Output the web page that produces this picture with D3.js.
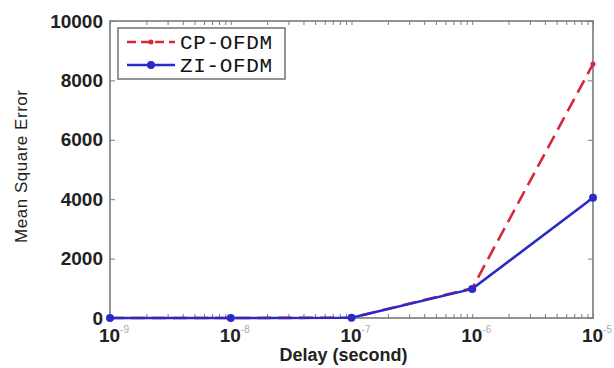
<!DOCTYPE html>
<html>
<head>
<meta charset="utf-8">
<script src="https://cdn.jsdelivr.net/npm/d3@7"></script>
<style>
  body { margin: 0; background: #fff; }
  svg { display: block; }
</style>
</head>
<body>
<svg id="chart"></svg>
<script>
// data
const delays = [1e-9, 1e-8, 1e-7, 1e-6, 1e-5];
const cpOfdm = [0, 0, 10, 1000, 8550];
const ziOfdm = [0, 0, 10, 980, 4050];
const yTicks = [0, 2000, 4000, 6000, 8000, 10000];
const seriesNames = ["CP-OFDM", "ZI-OFDM"];

const width = 614, height = 368;
const margin = {top: 21, right: 21, bottom: 50, left: 110};

const svg = d3.select("#chart")
  .attr("width", width)
  .attr("height", height)
  .attr("viewBox", [0, 0, width, height]);

const x = d3.scaleLog()
  .domain([1e-9, 1e-5])
  .range([margin.left, width - margin.right]);

const y = d3.scaleLinear()
  .domain([0, 10000])
  .range([height - margin.bottom, margin.top]);

const axisColor = "#7a7a7a";
const tickFont = "'Liberation Sans', Arial, sans-serif";

// minor log ticks, inward, top and bottom
const minor = [];
for (let e = -9; e < -5; e++) {
  for (let k = 1; k < 10; k++) minor.push(k * Math.pow(10, e));
}
minor.push(1e-5);

const bottomAxis = g => g
  .attr("transform", `translate(0,${y(0)})`)
  .call(d3.axisBottom(x).tickValues(minor).tickSize(-4).tickFormat(""))
  .call(g => g.select(".domain").remove())
  .call(g => g.selectAll(".tick line").attr("stroke", axisColor));

const topAxis = g => g
  .attr("transform", `translate(0,${y(10000)})`)
  .call(d3.axisTop(x).tickValues(minor).tickSize(-4).tickFormat(""))
  .call(g => g.select(".domain").remove())
  .call(g => g.selectAll(".tick line").attr("stroke", axisColor));

svg.append("g").call(bottomAxis);
svg.append("g").call(topAxis);

// y ticks inward, left and right
svg.append("g")
  .attr("transform", `translate(${x(1e-9)},0)`)
  .call(d3.axisLeft(y).tickValues(yTicks).tickSize(-5).tickFormat(d3.format("d")))
  .call(g => g.select(".domain").remove())
  .call(g => g.selectAll(".tick line").attr("stroke", axisColor))
  .call(g => g.selectAll(".tick text")
    .attr("font-family", tickFont)
    .attr("font-weight", "bold")
    .attr("font-size", 19)
    .attr("fill", "#222")
    .attr("x", -7));

svg.append("g")
  .attr("transform", `translate(${x(1e-5)},0)`)
  .call(d3.axisRight(y).tickValues(yTicks).tickSize(-5).tickFormat(""))
  .call(g => g.select(".domain").remove())
  .call(g => g.selectAll(".tick line").attr("stroke", axisColor));

// frame
svg.append("rect")
  .attr("x", x(1e-9))
  .attr("y", y(10000))
  .attr("width", x(1e-5) - x(1e-9))
  .attr("height", y(0) - y(10000))
  .attr("fill", "none")
  .attr("stroke", axisColor)
  .attr("stroke-width", 1.6);

// x tick labels 10^n
const xl = svg.append("g")
  .selectAll("text")
  .data(delays)
  .join("text")
    .attr("x", d => x(d) + 4)
    .attr("y", y(0) + 24)
    .attr("text-anchor", "middle")
    .attr("font-family", tickFont)
    .attr("font-weight", "bold")
    .attr("font-size", 19)
    .attr("fill", "#222");
xl.append("tspan").text("10");
xl.append("tspan")
  .attr("dy", -9)
  .attr("font-size", 10)
  .attr("font-weight", "normal")
  .attr("fill", "#aaa")
  .text(d => Math.round(Math.log10(d)));

// axis titles
svg.append("text")
  .attr("x", x(1e-7) - 8)
  .attr("y", 361)
  .attr("text-anchor", "middle")
  .attr("font-family", tickFont)
  .attr("font-weight", "bold")
  .attr("font-size", 18)
  .attr("fill", "#222")
  .text("Delay (second)");

svg.append("text")
  .attr("transform", `translate(27,${(y(0) + y(10000)) / 2 - 3}) rotate(-90)`)
  .attr("text-anchor", "middle")
  .attr("font-family", tickFont)
  .attr("font-size", 17)
  .attr("textLength", 153)
  .attr("fill", "#222")
  .text("Mean Square Error");

// lines
const line = vals => d3.line()
  .x((d, i) => x(delays[i]))
  .y(d => y(d))(vals);

const red = "#d8263a", blue = "#2a2ac8";

svg.append("path")
  .attr("d", line(cpOfdm))
  .attr("fill", "none")
  .attr("stroke", red)
  .attr("stroke-width", 2.6)
  .attr("stroke-dasharray", "14,7");

svg.append("g")
  .selectAll("circle")
  .data(cpOfdm)
  .join("circle")
    .attr("cx", (d, i) => x(delays[i]))
    .attr("cy", d => y(d))
    .attr("r", 2.5)
    .attr("fill", red);

svg.append("path")
  .attr("d", line(ziOfdm))
  .attr("fill", "none")
  .attr("stroke", blue)
  .attr("stroke-width", 2.6);

svg.append("g")
  .selectAll("circle")
  .data(ziOfdm)
  .join("circle")
    .attr("cx", (d, i) => x(delays[i]))
    .attr("cy", d => y(d))
    .attr("r", 4)
    .attr("fill", blue);

// legend
const lg = svg.append("g").attr("transform", "translate(118,28)");
lg.append("rect")
  .attr("width", 167)
  .attr("height", 51)
  .attr("fill", "#fff")
  .attr("stroke", axisColor)
  .attr("stroke-width", 1.6);

const items = lg.selectAll("g.item")
  .data(seriesNames)
  .join("g")
    .attr("class", "item")
    .attr("transform", (d, i) => `translate(0,${14 + i * 23})`);

items.append("line")
  .attr("x1", 9).attr("x2", 57)
  .attr("stroke", (d, i) => i === 0 ? red : blue)
  .attr("stroke-width", 2.4)
  .attr("stroke-dasharray", (d, i) => i === 0 ? "9,5" : null);

items.append("circle")
  .attr("cx", 33)
  .attr("r", (d, i) => i === 0 ? 2.5 : 4)
  .attr("fill", (d, i) => i === 0 ? red : blue);

items.append("text")
  .attr("x", 62)
  .attr("y", 7)
  .attr("font-family", "'Courier New', 'Liberation Mono', monospace")
  .attr("font-size", 21)
  .attr("textLength", 92)
  .attr("fill", "#111")
  .text(d => d);
</script>
</body>
</html>
